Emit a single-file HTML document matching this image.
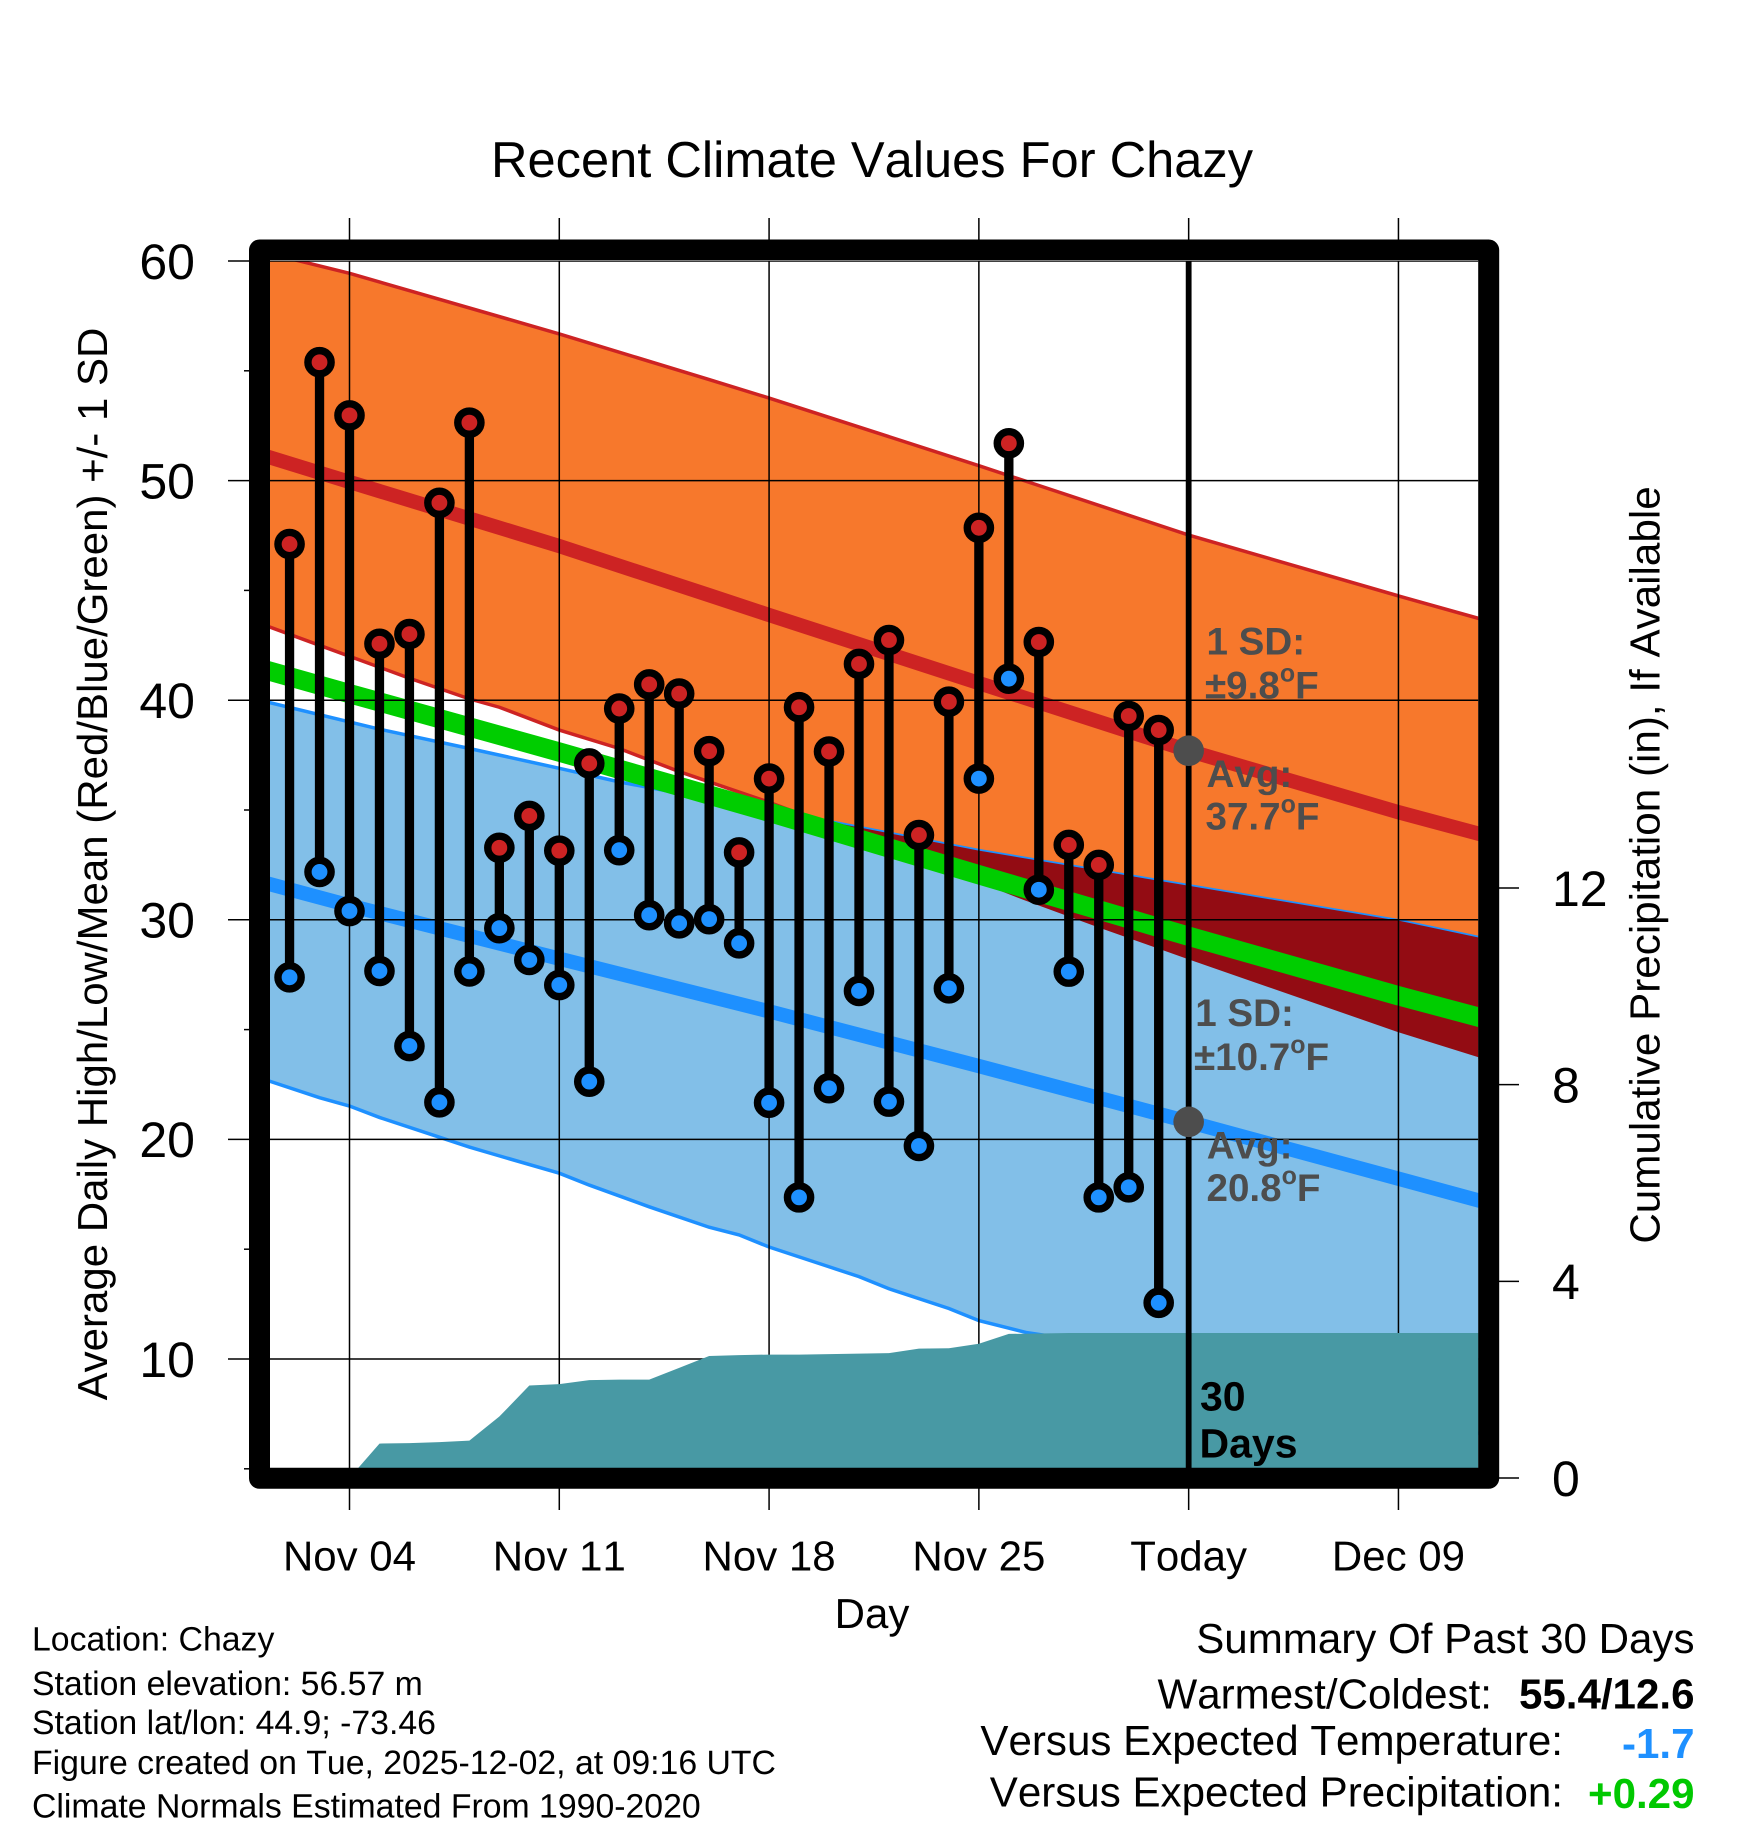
<!DOCTYPE html>
<html lang="en">
<head>
<meta charset="utf-8">
<title>Recent Climate Values For Chazy</title>
<style>
html,body{margin:0;padding:0;background:#fff;}
svg{display:block;}
text{font-family:"Liberation Sans",Arial,sans-serif;fill:#000;font-kerning:none;text-rendering:geometricPrecision;}
.gray{font-weight:700;font-size:38.6px;fill:#4d4d4d;}
.info{font-size:33.8px;}
.sum{font-size:42.1px;text-anchor:end;}
</style>
</head>
<body>
<svg id="chart" xmlns="http://www.w3.org/2000/svg" width="1748" height="1828" viewBox="0 0 1748 1828">
  <rect x="0" y="0" width="1748" height="1828" fill="#fff"/>
  <defs>
    <clipPath id="plot-clip"><rect x="270" y="261" width="1208.3" height="1207"/></clipPath>
    <clipPath id="high-band-clip"><polygon id="high-band-clip-shape" points="0,0"/></clipPath>
  </defs>
  <g id="outer-ticks" clip-path="none"></g>
  <g id="plot-layer" clip-path="url(#plot-clip)"></g>
  <g id="obs-layer"></g>
  <rect x="259.5" y="250" width="1229.2" height="1228.3" fill="none" stroke="#000" stroke-width="21" stroke-linejoin="round"/>
  <g id="tick-labels"></g>

  <text x="872" y="177" font-size="50.6" text-anchor="middle">Recent Climate Values For Chazy</text>
  <text x="872" y="1628" font-size="42" text-anchor="middle">Day</text>
  <text transform="translate(107 864) rotate(-90)" font-size="42" text-anchor="middle">Average Daily High/Low/Mean (Red/Blue/Green) +/- 1 SD</text>
  <text transform="translate(1659.5 865) rotate(-90)" font-size="42.2" text-anchor="middle">Cumulative Precipitation (in), If Available</text>

  <text class="gray" x="1206.5" y="654.7">1 SD:</text>
  <text class="gray" x="1205" y="698.7">±9.8<tspan font-size="25" dy="-17">o</tspan><tspan dy="17">F</tspan></text>
  <text class="gray" x="1206.5" y="786.8">Avg:</text>
  <text class="gray" x="1205.5" y="829.6">37.7<tspan font-size="25" dy="-17">o</tspan><tspan dy="17">F</tspan></text>
  <text class="gray" x="1195.2" y="1026">1 SD:</text>
  <text class="gray" x="1194" y="1070">±10.7<tspan font-size="25" dy="-17">o</tspan><tspan dy="17">F</tspan></text>
  <text class="gray" x="1206.8" y="1158.3">Avg:</text>
  <text class="gray" x="1206.5" y="1201">20.8<tspan font-size="25" dy="-17">o</tspan><tspan dy="17">F</tspan></text>
  <text x="1200" y="1410.7" font-size="41" font-weight="700">30</text>
  <text x="1199.5" y="1457.3" font-size="41" font-weight="700">Days</text>

  <text class="info" x="32" y="1650.7">Location: Chazy</text>
  <text class="info" x="32" y="1695">Station elevation: 56.57 m</text>
  <text class="info" x="32" y="1734">Station lat/lon: 44.9; -73.46</text>
  <text class="info" x="32" y="1774">Figure created on Tue, 2025-12-02, at 09:16 UTC</text>
  <text class="info" x="32" y="1817.3">Climate Normals Estimated From 1990-2020</text>

  <text class="sum" x="1694.5" y="1653">Summary Of Past 30 Days</text>
  <text class="sum" x="1492" y="1708.3">Warmest/Coldest:</text>
  <text class="sum" x="1694.5" y="1708.3" font-weight="700">55.4/12.6</text>
  <text class="sum" x="1563" y="1755">Versus Expected Temperature:</text>
  <text class="sum" x="1694.5" y="1758" font-weight="700" style="fill:#1e90ff">-1.7</text>
  <text class="sum" x="1563" y="1806.7">Versus Expected Precipitation:</text>
  <text class="sum" x="1694.5" y="1808" font-weight="700" style="fill:#00c800">+0.29</text>
</svg>

<script>
// Observed daily values (day number counted from Nov 1 = 1, so Dec 1 = 31)
const obsDays = [2,3,4,5,6,7,8,9,10,11,12,13,14,15,16,17,18,19,20,21,22,23,24,25,26,27,28,29,30,31];
const obsHighs = [47.11,55.39,52.97,42.57,43.01,48.99,52.64,33.28,34.73,33.15,37.12,39.62,40.72,40.30,37.68,33.07,36.43,39.68,37.66,41.65,42.74,33.86,39.93,47.85,51.70,42.65,33.41,32.50,39.28,38.64];
const obsLows = [27.38,32.18,30.40,27.67,24.25,21.69,27.65,29.62,28.17,27.03,22.63,33.17,30.21,29.84,30.03,28.93,21.67,17.36,22.33,26.76,21.72,19.70,26.88,36.43,40.98,31.37,27.64,17.36,17.82,12.56];

// Climatology
const highUpperDays = [1,4,11,16,18,25,32,39,42];
const highUpperValues = [60.45,59.44,56.68,54.6,53.76,50.68,47.52,44.75,43.6];
const highMeanDays = [1,4,11,16,18,25,32,39,42];
const highMeanValues = [51.2,49.94,47.02,44.78,43.88,40.78,37.7,34.9,33.8];
const highLowerDays = [1,3,6,8,9,11,13,15,18,22,26.5,29,32,34,39,42];
const highLowerValues = [43.5,42.5,41.0,40.06,39.68,38.64,37.8,36.75,35.35,33.3,30.9,29.65,28.2,27.25,24.88,23.6];
const meanDays = [1,4,11,18,25,32,39,42];
const meanValues = [41.45,40.3,37.64,34.9,32.05,29.25,26.54,25.45];
const lowUpperDays = [1,5,8,11,13,20,25,32,39,42];
const lowUpperValues = [40.0,38.68,37.8,36.9,36.28,34.47,33.15,31.55,29.96,29.1];
const lowMeanDays = [1,4,11,18,25,32,39,42];
const lowMeanValues = [31.75,30.65,28.23,25.83,23.34,20.8,18.21,17.1];
const lowLowerDays = [1,3,4,5,7,8,9,11,12,14,16,17,18,20,21,22,24,25,26.6,32,39,42];
const lowLowerValues = [22.8,21.9,21.52,21.0,20.1,19.65,19.25,18.46,17.92,16.93,16.0,15.65,15.1,14.2,13.75,13.2,12.3,11.75,11.2,10.1,7.5,6.5];

// Cumulative precipitation (inches)
const precipDays = [2,3,4,5,6,7,8,9,10,11,12,13,14,15,16,17,18,19,20,21,22,23,24,25,26,27,28,29,30,31,42];
const precipValues = [0,0,0,0.70,0.71,0.73,0.76,1.25,1.88,1.91,1.99,2.0,2.0,2.24,2.48,2.5,2.51,2.51,2.52,2.53,2.54,2.63,2.64,2.73,2.93,2.94,2.95,2.95,2.95,2.95,2.95];

// "Today" markers
const todayDay = 32;
const todayHighAvg = 37.7;
const todayLowAvg = 20.8;

// Axes
const xTickDays = [4,11,18,25,32,39];
const xTickLabels = ["Nov 04","Nov 11","Nov 18","Nov 25","Today","Dec 09"];
const yMajorTicks = [60,50,40,30,20,10];
const yMinorTicks = [55,45,35,25,15,5];
const precipTicks = [0,4,8,12];

function xScale(day){ return 349.5 + (day - 4) * 29.97; }
function yScale(v){ return 261 + (60 - v) * 21.96; }
function yPrecip(p){ return 1478 - 49.17 * p; }

const NS = "http://www.w3.org/2000/svg";
function make(parent, tag, attrs){
  const node = document.createElementNS(NS, tag);
  for (const k in attrs) node.setAttribute(k, attrs[k]);
  parent.appendChild(node);
  return node;
}
function pts(days, vals){
  return days.map(function(d, i){ return xScale(d).toFixed(2) + "," + yScale(vals[i]).toFixed(2); });
}
function bandPoints(uDays, uVals, lDays, lVals){
  return pts(uDays, uVals).concat(pts(lDays, lVals).reverse()).join(" ");
}

const plot = document.getElementById("plot-layer");
const ticks = document.getElementById("outer-ticks");
const labels = document.getElementById("tick-labels");
const obs = document.getElementById("obs-layer");
let el;

const C = {orange:"#f7782c", red:"#cd2323", sky:"#82bfe8", blue:"#1e90ff", dark:"#930c13", green:"#00cd00", teal:"#4899a4"};

const highBand = bandPoints(highUpperDays, highUpperValues, highLowerDays, highLowerValues);
const lowBand = bandPoints(lowUpperDays, lowUpperValues, lowLowerDays, lowLowerValues);
document.getElementById("high-band-clip-shape").setAttribute("points", highBand);

el = make(plot, "polygon", {points: highBand, fill: C.orange});



el = make(plot, "polyline", {points: pts(highUpperDays, highUpperValues).join(" "), fill: "none", stroke: C.red, "stroke-width": 3.5});



el = make(plot, "polyline", {points: pts(highLowerDays, highLowerValues).join(" "), fill: "none", stroke: C.red, "stroke-width": 3.5});



el = make(plot, "polygon", {points: lowBand, fill: C.sky});



el = make(plot, "polyline", {points: pts(lowUpperDays, lowUpperValues).join(" "), fill: "none", stroke: C.blue, "stroke-width": 3.5});



el = make(plot, "polyline", {points: pts(lowLowerDays, lowLowerValues).join(" "), fill: "none", stroke: C.blue, "stroke-width": 3.5});



el = make(plot, "polygon", {points: lowBand, fill: C.dark, "clip-path": "url(#high-band-clip)"});



el = make(plot, "polyline", {points: pts(highMeanDays, highMeanValues).join(" "), fill: "none", stroke: C.red, "stroke-width": 14.3});



el = make(plot, "polyline", {points: pts(meanDays, meanValues).join(" "), fill: "none", stroke: C.green, "stroke-width": 19.3});



el = make(plot, "polyline", {points: pts(lowMeanDays, lowMeanValues).join(" "), fill: "none", stroke: C.blue, "stroke-width": 14.3});



// Gridlines inside the plot
yMajorTicks.forEach(function(v){
  el = make(plot, "line", {x1: 270, x2: 1478.3, y1: yScale(v), y2: yScale(v), stroke: "#000", "stroke-width": 1.5});
  
  
});
xTickDays.forEach(function(d){
  el = make(plot, "line", {x1: xScale(d), x2: xScale(d), y1: 261, y2: 1468, stroke: "#000", "stroke-width": 1.5});
  
  
});

// Cumulative precipitation area
const precipPts = precipDays.map(function(d, i){ return xScale(d).toFixed(2) + "," + yPrecip(precipValues[i]).toFixed(2); });
precipPts.push(xScale(precipDays[precipDays.length - 1]).toFixed(2) + "," + yPrecip(0).toFixed(2));
precipPts.push(xScale(precipDays[0]).toFixed(2) + "," + yPrecip(0).toFixed(2));
el = make(plot, "polygon", {points: precipPts.join(" "), fill: C.teal});



// Today line and average markers
el = make(obs, "line", {x1: xScale(todayDay), x2: xScale(todayDay), y1: 261, y2: 1468, stroke: "#000", "stroke-width": 5.8});



el = make(obs, "circle", {cx: xScale(todayDay), cy: yScale(todayHighAvg), r: 15.3, fill: "#4d4d4d"});



el = make(obs, "circle", {cx: xScale(todayDay), cy: yScale(todayLowAvg), r: 15.3, fill: "#4d4d4d"});



// Observed high/low stems and markers
obsDays.forEach(function(d, i){
  const x = xScale(d), yh = yScale(obsHighs[i]), yl = yScale(obsLows[i]);
  el = make(obs, "line", {x1: x, x2: x, y1: yh, y2: yl, stroke: "#000", "stroke-width": 9.3});
  
  
  el = make(obs, "circle", {cx: x, cy: yh, r: 11.6, fill: C.red, stroke: "#000", "stroke-width": 7.4});
  
  
  el = make(obs, "circle", {cx: x, cy: yl, r: 11.6, fill: C.blue, stroke: "#000", "stroke-width": 7.4});
  
  
});

// Outer ticks and labels
yMajorTicks.forEach(function(v){
  el = make(ticks, "line", {x1: 228, x2: 250, y1: yScale(v), y2: yScale(v), stroke: "#000", "stroke-width": 1.5});
  
  
  el = make(labels, "text", {x: 195, y: yScale(v) + 17.8, "font-size": 50, "text-anchor": "end"});
  el.textContent = String(v);
  
  
});
yMinorTicks.forEach(function(v){
  el = make(ticks, "line", {x1: 244, x2: 250, y1: yScale(v), y2: yScale(v), stroke: "#000", "stroke-width": 1.5});
  
  
});
xTickDays.forEach(function(d, i){
  el = make(ticks, "line", {x1: xScale(d), x2: xScale(d), y1: 218, y2: 240, stroke: "#000", "stroke-width": 1.5});
  
  
  el = make(ticks, "line", {x1: xScale(d), x2: xScale(d), y1: 1488, y2: 1510, stroke: "#000", "stroke-width": 1.5});
  
  
  el = make(labels, "text", {x: xScale(d), y: 1570.7, "font-size": 42, "text-anchor": "middle"});
  el.textContent = xTickLabels[i];
  
  
});
precipTicks.forEach(function(p){
  el = make(ticks, "line", {x1: 1498, x2: 1519, y1: yPrecip(p), y2: yPrecip(p), stroke: "#000", "stroke-width": 1.5});
  
  
  el = make(labels, "text", {x: 1552, y: yPrecip(p) + 17.8, "font-size": 50});
  el.textContent = String(p);
  
  
});
</script>
</body>
</html>
